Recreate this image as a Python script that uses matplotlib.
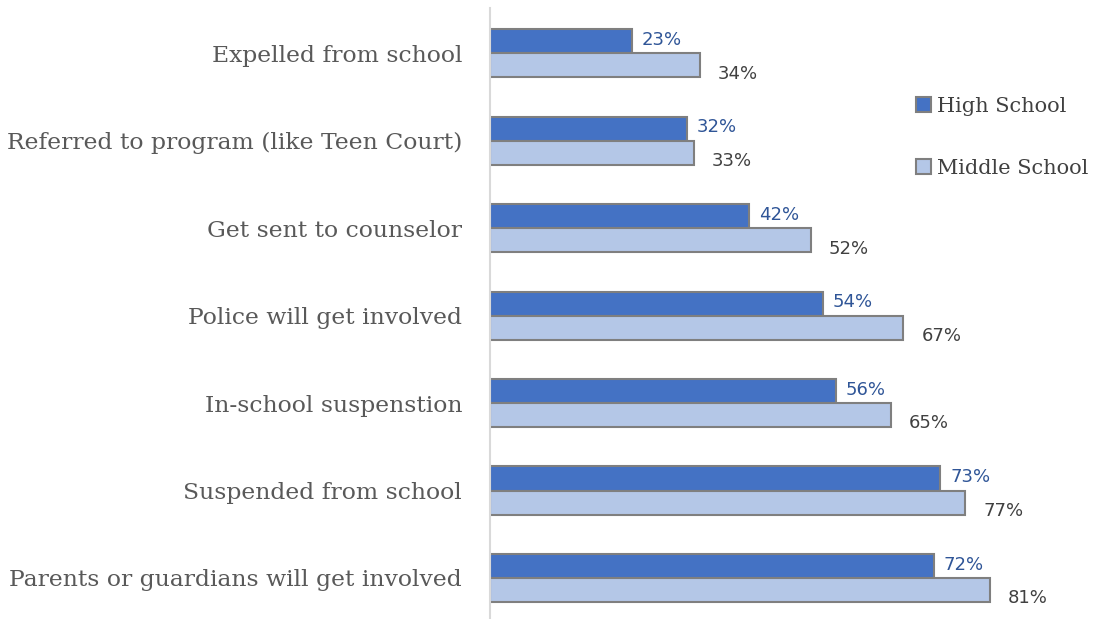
import matplotlib.pyplot as plt
import numpy as np

categories = ['Expelled from school',
              'Referred to program (like Teen Court)',
              'Get sent to counselor',
              'Police will get involved',
              'In-school suspenstion',
              'Suspended from school',
              'Parents or guardians will get involved']
high_school = [23, 32, 42, 54, 56, 73, 72]
middle_school = [34, 33, 52, 67, 65, 77, 81]

fig = plt.figure(figsize=(11.04, 6.19), dpi=100)
ax = fig.add_axes([490 / 1104, 0.0, 610 / 1104, 1 - 8 / 619])

y = np.arange(len(categories))
h = 0.275
edge = '#7F7F7F'
ax.barh(y - h / 2, high_school, height=h, color='#4472C4', edgecolor=edge,
        linewidth=1.5, label='High School')
ax.barh(y + h / 2, middle_school, height=h, color='#B4C7E7', edgecolor=edge,
        linewidth=1.5, label='Middle School')

for i, (hs, ms) in enumerate(zip(high_school, middle_school)):
    ax.annotate(f'{hs}%', (hs, i - h / 2), xytext=(7, 1), textcoords='offset points',
                va='center', ha='left', fontsize=13, color='#2F5597')
    ax.annotate(f'{ms}%', (ms, i + h / 2), xytext=(13, -6), textcoords='offset points',
                va='center', ha='left', fontsize=13, color='#404040')

ax.set_xlim(0, 610 / 6.17)
ax.set_ylim(6.47, -0.52)
ax.set_yticks(y)
ax.set_yticklabels(categories, fontsize=16.9, color='#595959', family='DejaVu Serif')
ax.tick_params(axis='y', length=0, pad=20)
ax.set_xticks([])
for s in ['top', 'right', 'bottom']:
    ax.spines[s].set_visible(False)
ax.spines['left'].set_color('#D9D9D9')
ax.spines['left'].set_linewidth(1.5)

leg = ax.legend(loc='upper left', bbox_to_anchor=(0.668, 0.885), frameon=False,
                prop={'family': 'DejaVu Serif', 'size': 15},
                handlelength=0.7, handleheight=0.7, handletextpad=0.3,
                labelspacing=2.05, labelcolor='#404040')

fig.savefig('out.png', dpi=100)
